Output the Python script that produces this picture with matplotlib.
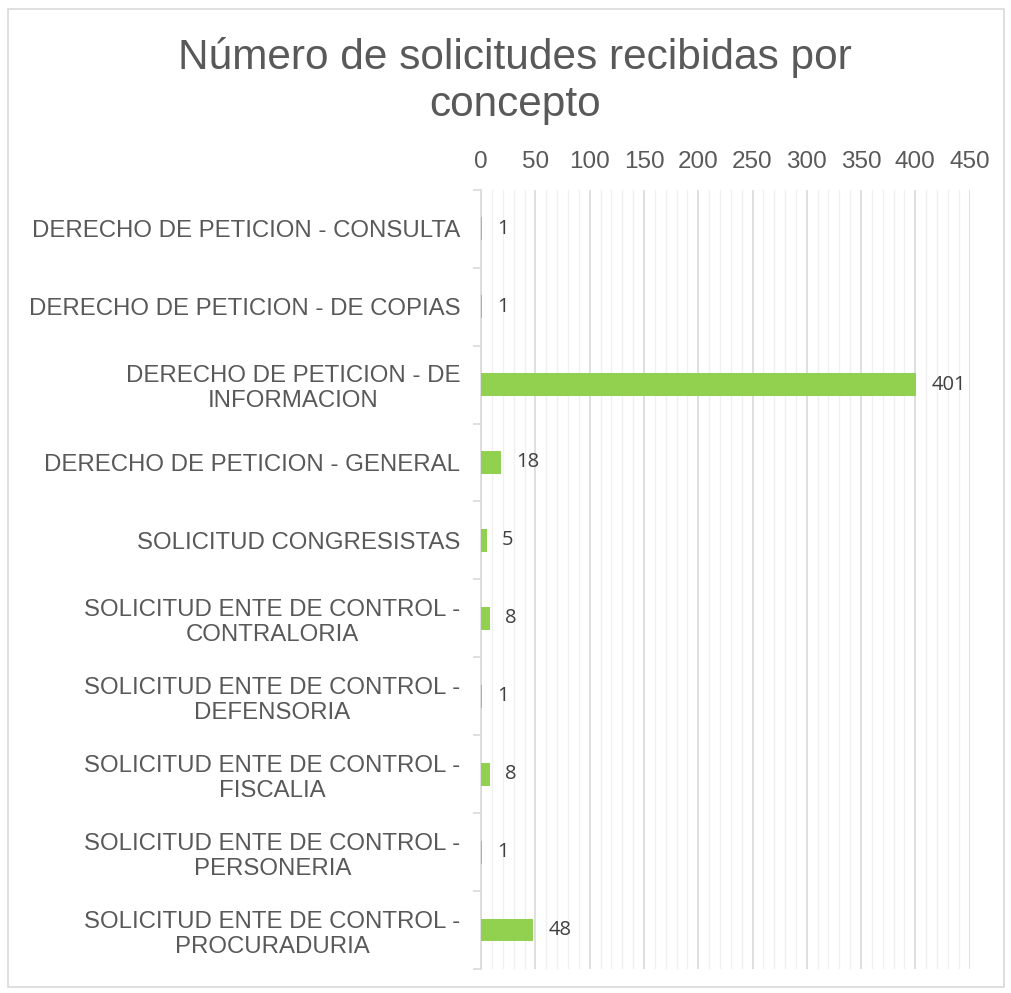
import matplotlib.pyplot as plt
from matplotlib.ticker import MultipleLocator
from matplotlib.patches import Rectangle

categories = [
    "DERECHO DE PETICION - CONSULTA",
    "DERECHO DE PETICION - DE COPIAS",
    "DERECHO DE PETICION - DE\nINFORMACION",
    "DERECHO DE PETICION - GENERAL",
    "SOLICITUD CONGRESISTAS",
    "SOLICITUD ENTE DE CONTROL -\nCONTRALORIA",
    "SOLICITUD ENTE DE CONTROL -\nDEFENSORIA",
    "SOLICITUD ENTE DE CONTROL -\nFISCALIA",
    "SOLICITUD ENTE DE CONTROL -\nPERSONERIA",
    "SOLICITUD ENTE DE CONTROL -\nPROCURADURIA",
]
values = [1, 1, 401, 18, 5, 8, 1, 8, 1, 48]
x_ticks = [0, 50, 100, 150, 200, 250, 300, 350, 400, 450]

title = "Número de solicitudes recibidas por\nconcepto"
bar_color = "#92D050"
text_color = "#595959"

plt.rcParams['font.family'] = ['Liberation Sans', 'DejaVu Sans']

fig = plt.figure(figsize=(10.11, 9.93), dpi=100)
ax = fig.add_axes([0.476, 0.024, 0.483, 0.785])

pos = list(range(len(categories)))
ax.barh(pos, values, height=0.29, color=bar_color, zorder=3)
ax.set_ylim(len(categories) - 0.5, -0.5)
ax.set_xlim(0, 450)

for p, v in zip(pos, values):
    ax.annotate(str(v), (v, p), xytext=(11, 0), textcoords="offset points",
                ha="left", va="center", fontsize=14.5, color="#404040",
                family=["Open Sans", "DejaVu Sans"])

# gridlines
ax.xaxis.set_major_locator(MultipleLocator(50))
ax.xaxis.set_minor_locator(MultipleLocator(10))
ax.grid(axis="x", which="major", color="#D9D9D9", linewidth=1.2, zorder=0)
ax.grid(axis="x", which="minor", color="#F0F0F0", linewidth=1.0, zorder=0)
ax.set_xticks(x_ticks)

ax.xaxis.tick_top()
ax.tick_params(axis="x", which="both", length=0, labelsize=17.5, colors=text_color, pad=12)
ax.set_yticks(pos)
ax.set_yticklabels(categories, fontsize=17.3, color=text_color, ha="right",
                   multialignment="center")
ax.set_yticks([p + 0.5 for p in [-1] + pos], minor=True)
ax.tick_params(axis="y", which="major", length=0, pad=15)
ax.tick_params(axis="y", which="minor", length=6, color="#D9D9D9", width=1.2)

for side in ["top", "right", "bottom"]:
    ax.spines[side].set_visible(False)
ax.spines["left"].set_color("#D9D9D9")
ax.spines["left"].set_linewidth(1.2)

fig.text(0.509, 0.9185, title, ha="center", va="center", fontsize=30.5,
         color=text_color, linespacing=1.22)

fig.patches.append(Rectangle((0.008, 0.006), 0.985, 0.985, transform=fig.transFigure,
                             fill=False, edgecolor="#D9D9D9", linewidth=1.2))

fig.savefig("out.png", dpi=100)
